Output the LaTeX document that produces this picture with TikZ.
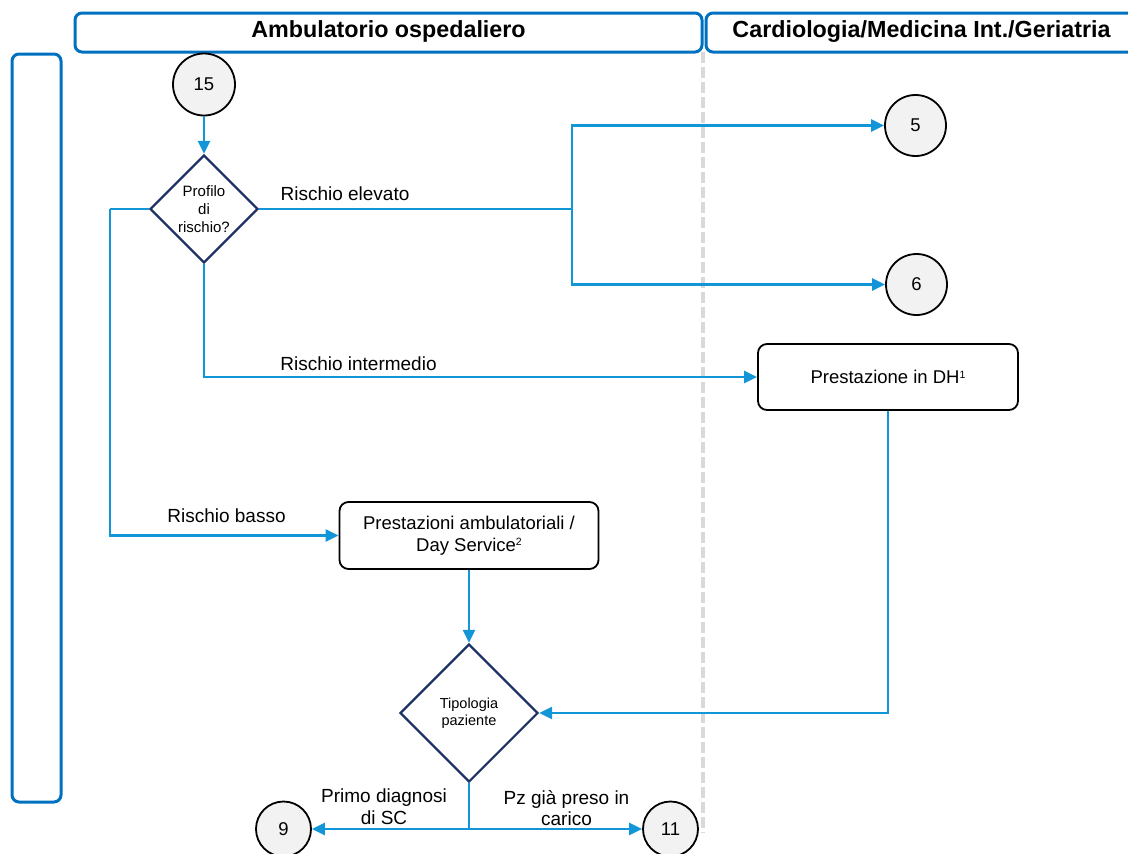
\documentclass[tikz,border=0pt]{standalone}
\usepackage{fontspec}
\setmainfont{Liberation Sans}
\usetikzlibrary{shapes.geometric,arrows.meta}
\definecolor{flowblue}{RGB}{18,150,215}
\definecolor{headblue}{RGB}{0,112,192}
\definecolor{navy}{RGB}{31,50,100}
\definecolor{lanegray}{RGB}{217,217,217}
\definecolor{circfill}{RGB}{242,242,242}
% small raised footnote mark inside the boxes
\newcommand{\boxnote}[1]{\raisebox{5.5pt}{\fontsize{10.5}{10.5}\selectfont #1}}

\begin{document}
\begin{tikzpicture}[x=1pt,y=-1pt,
  header/.style={draw=headblue, line width=3pt, rounded corners=7pt, inner sep=0pt},
  headtext/.style={font=\fontsize{23.3}{28}\selectfont\bfseries, anchor=base, inner sep=0pt},
  conn/.style={draw=flowblue, line width=2.4pt},
  arr/.style={conn, -{Triangle[length=13pt,width=12pt]}},
  ref/.style={circle, draw=black, line width=1.8pt, fill=circfill, inner sep=0pt, font=\fontsize{18.5}{22}\selectfont},
  decision/.style={diamond, draw=navy, line width=2.2pt, fill=white, inner sep=0pt, align=center},
  task/.style={draw=black, line width=1.8pt, rounded corners=9pt, fill=white, align=center, inner sep=0pt, font=\fontsize{18.5}{21.5}\selectfont},
  lbl/.style={font=\fontsize{19}{21}\selectfont, align=center, inner sep=0pt},
]
\clip (0,0) rectangle (1128,854);

% swimlane divider
\draw[lanegray, line width=4pt, dash pattern=on 11pt off 4pt] (703,52) -- (703,833);

% lane headers
\node[header, minimum width=627pt, minimum height=39pt] (h1) at (388.5,32.5) {};
\node[headtext] (h1t) at (388.5,37) {Ambulatorio ospedaliero};
\node[header, minimum width=430pt, minimum height=39pt] (h2) at (921,32.5) {};
\node[headtext] (h2t) at (921.5,37) {Cardiologia/Medicina Int./Geriatria};
\node[header, minimum width=49pt, minimum height=748pt] (lane) at (36.5,428) {};

% flow nodes
\node[ref, minimum size=62pt] (c15) at (204,84.5) {15};
\node[decision, minimum width=108pt, minimum height=108pt, font=\fontsize{15}{18}\selectfont] (d1) at (204,209) {Profilo\\di\\rischio?};
\node[ref, minimum size=61pt] (c5) at (915.5,125.5) {5};
\node[ref, minimum size=61pt] (c6) at (916.5,284.5) {6};
\node[task, minimum width=260pt, minimum height=66pt] (dh) at (888,377) {Prestazione in DH\boxnote{1}};
\node[task, minimum width=259pt, minimum height=67pt] (amb) at (469,535.5) {Prestazioni ambulatoriali /\\Day Service\boxnote{2}};
\node[decision, minimum width=138pt, minimum height=138pt, font=\fontsize{14.5}{17.5}\selectfont] (d2) at (469,713) {Tipologia\\paziente};
\node[ref, minimum size=55pt] (c9) at (283.5,829) {9};
\node[ref, minimum size=55pt] (c11) at (670.5,829) {11};

% junction points
\coordinate (hi) at (572,209);
\coordinate (lo) at (110,209);
\coordinate (fork) at (469,829);

% connectors
\draw[arr] (c15) -- (d1);
\draw[conn] (d1.east) -- (hi);
\draw[arr] (hi) |- (c5);
\draw[arr] (hi) |- (c6);
\draw[arr] (d1.south) |- (dh.west);
\draw[conn] (d1.west) -- (lo);
\draw[arr] (lo) |- (amb.west);
\draw[arr] (amb.south) -- (d2.north);
\draw[arr] (dh.south) |- (d2.east);
\draw[conn] (d2.south) -- (fork);
\draw[arr] (fork) -- (c9);
\draw[arr] (fork) -- (c11);

% branch labels
\node[lbl, anchor=base] (tElev) at (345,200) {Rischio elevato};
\node[lbl, anchor=base] (tInt) at (358.5,370) {Rischio intermedio};
\node[lbl, anchor=base] (tBas) at (226.5,522) {Rischio basso};
\node[lbl, font=\fontsize{19}{22}\selectfont] (tPrimo) at (384,807) {Primo diagnosi\\di SC};
\node[lbl, font=\fontsize{19}{21}\selectfont] (tPz) at (566.5,808) {Pz già preso in\\carico};
\end{tikzpicture}
\end{document}
